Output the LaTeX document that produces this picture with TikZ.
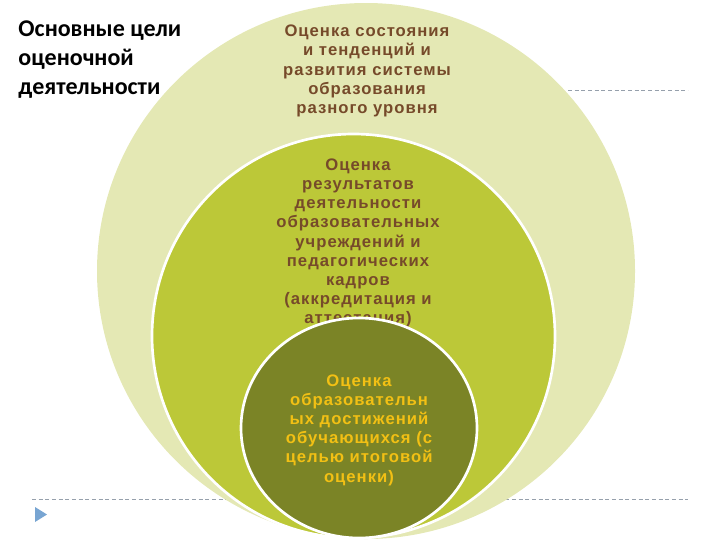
\documentclass[tikz,border=0pt]{standalone}
\usepackage{fontspec}
\setmainfont{Liberation Sans}
\newfontfamily\titlefont{Carlito}
\newfontfamily\ringfont[LetterSpace=6]{Liberation Sans}
\tikzset{every picture/.style={line width=0.75pt}}
\definecolor{ringouter}{RGB}{228,232,180}
\definecolor{ringmiddle}{RGB}{188,200,56}
\definecolor{ringinner}{RGB}{123,132,38}
\definecolor{browntext}{RGB}{118,74,42}
\definecolor{goldtext}{RGB}{242,192,20}
\definecolor{slidegray}{RGB}{150,160,172}
\definecolor{slideblue}{RGB}{120,165,210}
\tikzset{
  ringlabel/.style={align=center, inner sep=0pt, font=\ringfont\bfseries\fontsize{12.5}{14.4}\selectfont},
  titlelabel/.style={align=left, inner sep=0pt, anchor=north west, font=\titlefont\bfseries\fontsize{18}{22}\selectfont},
  rimline/.style={draw=white, line width=2pt},
  slideline/.style={draw=slidegray, line width=0.6pt, dash pattern=on 3pt off 2pt}
}

\begin{document}
\begin{tikzpicture}[x=0.75pt,y=0.75pt,yscale=-1,xscale=1]
\useasboundingbox (0,0) rectangle (720,540);

%Straight Lines
\coordinate (dashTopL) at (568,90);
\coordinate (dashTopR) at (688,90);
\draw [slideline] (dashTopL) -- (dashTopR) ;
%Straight Lines
\coordinate (dashBotL) at (32,499);
\coordinate (dashBotR) at (688,499);
\draw [slideline] (dashBotL) -- (dashBotR) ;
%Shape: Triangle
\fill [slideblue] (35,507) -- (47,514.5) -- (35,522) -- cycle ;

%Shape: Circle
\fill [ringouter] (366,271) ellipse (269 and 268) ;
%Shape: Circle
\draw [rimline, fill=ringmiddle] (353.5,336) ellipse (201.5 and 202) ;

\node [ringlabel, text=browntext] (stateText) at (367,71) {Оценка состояния\\и тенденций и\\развития системы\\образования\\разного уровня};
\node [ringlabel, text=browntext] (resultsText) at (358,243) {Оценка\\результатов\\деятельности\\образовательных\\учреждений и\\педагогических\\кадров\\(аккредитация и\\аттестация)};

%Shape: Circle
\draw [rimline, fill=ringinner] (359,428) ellipse (118 and 110) ;

\node [ringlabel, text=goldtext] (pupilsText) at (359,430) {Оценка\\образовательн\\ых достижений\\обучающихся (с\\целью итоговой\\оценки)};

\node [titlelabel] (goalsTitle) at (18,20) {Основные цели\\оценочной\\деятельности};

\end{tikzpicture}
\end{document}
